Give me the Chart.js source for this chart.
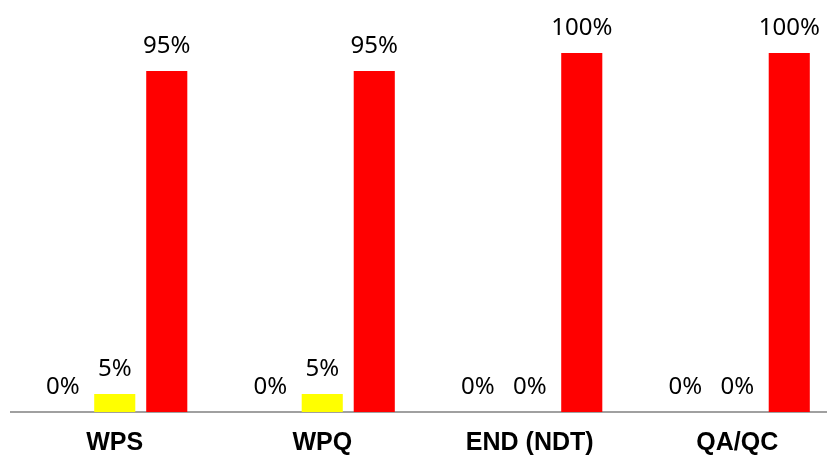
<!DOCTYPE html>
<html>
<head>
<meta charset="utf-8">
<script src="https://cdn.jsdelivr.net/npm/chart.js@4/dist/chart.umd.min.js"></script>
<style>
  html, body { margin: 0; padding: 0; background: #fff; overflow: hidden; }
  #wrap { width: 827px; height: 458px; overflow: hidden; position: relative; }
  #box { width: 841px; height: 458px; position: absolute; left: 0; top: 0; }
</style>
</head>
<body>
<div id="wrap"><div id="box"><canvas id="c"></canvas></div></div>
<script>
// Categories and series (percentages)
const categories = ['WPS', 'WPQ', 'END (NDT)', 'QA/QC'];
const seriesGreen = [0, 0, 0, 0];
const seriesYellow = [5, 5, 0, 0];
const seriesRed = [95, 95, 100, 100];

// Writes "<value>%" above each bar
const valueLabels = {
  id: 'valueLabels',
  afterDatasetsDraw(chart) {
    const ctx = chart.ctx;
    ctx.save();
    ctx.font = '24px "Noto Sans"';
    ctx.fillStyle = '#000';
    ctx.textAlign = 'center';
    ctx.textBaseline = 'alphabetic';
    chart.data.datasets.forEach((ds, i) => {
      chart.getDatasetMeta(i).data.forEach((bar, j) => {
        ctx.fillText(ds.data[j] + '%', bar.x, bar.y - 18);
      });
    });
    ctx.restore();
  }
};

new Chart(document.getElementById('c'), {
  type: 'bar',
  data: {
    labels: categories,
    datasets: [
      { data: seriesGreen, backgroundColor: '#00b050' },
      { data: seriesYellow, backgroundColor: '#ffff00' },
      { data: seriesRed, backgroundColor: '#ff0000' }
    ]
  },
  options: {
    responsive: true,
    maintainAspectRatio: false,
    animation: false,
    events: [],
    layout: { padding: { left: 11, right: 0, top: 53, bottom: 0 } },
    datasets: { bar: { categoryPercentage: 0.752, barPercentage: 0.79 } },
    plugins: { legend: { display: false }, tooltip: { enabled: false } },
    scales: {
      x: {
        grid: { display: false, drawTicks: false },
        border: { display: true, color: '#a0a0a0', width: 2 },
        ticks: {
          color: '#000',
          padding: 16,
          font: { family: '"Liberation Sans"', size: 25, weight: 'bold' }
        },
        afterFit(scale) { scale.height = 46; }
      },
      y: { display: false, min: 0, max: 100 }
    }
  },
  plugins: [valueLabels]
});
</script>
</body>
</html>
